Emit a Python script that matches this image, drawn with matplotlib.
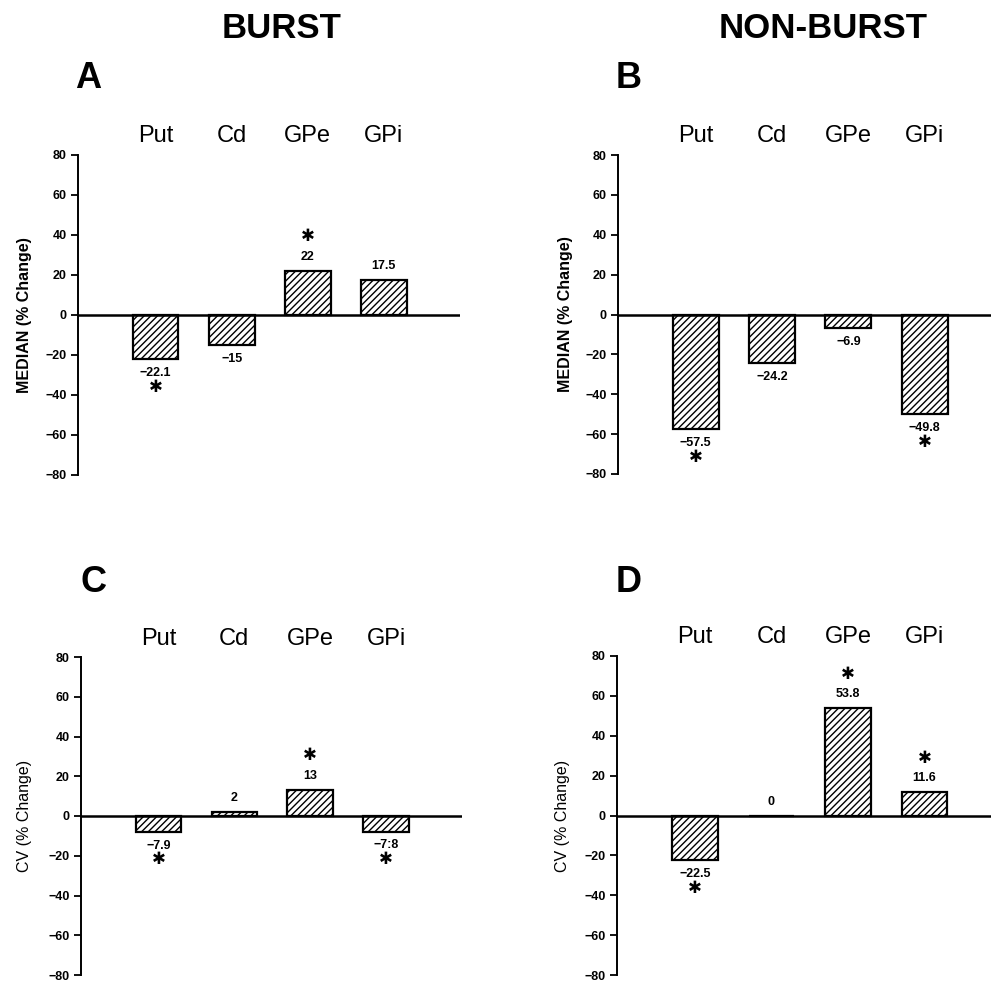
import matplotlib
matplotlib.use('Agg')
import matplotlib.pyplot as plt
import matplotlib.transforms as mtransforms

plt.rcParams['font.family'] = ['Liberation Sans', 'DejaVu Sans']
plt.rcParams['hatch.linewidth'] = 1.0

regions = ['Put', 'Cd', 'GPe', 'GPi']

# % change values
burst_median = [-22.1, -15, 22, 17.5]
nonburst_median = [-57.5, -24.2, -6.9, -49.8]
burst_cv = [-7.9, 2, 13, -7.8]
nonburst_cv = [-22.5, 0, 53.8, 11.6]

# value labels as printed
burst_median_lbl = ['\u221222.1', '\u221215', '22', '17.5']
nonburst_median_lbl = ['\u221257.5', '\u221224.2', '\u22126.9', '\u221249.8']
burst_cv_lbl = ['\u22127.9', '2', '13', '\u22127:8']
nonburst_cv_lbl = ['\u221222.5', '0', '53.8', '11.6']

# significance markers
burst_median_sig = [True, False, True, False]
nonburst_median_sig = [True, False, False, True]
burst_cv_sig = [True, False, True, True]
nonburst_cv_sig = [True, False, True, True]

yticks = [-80, -60, -40, -20, 0, 20, 40, 60, 80]

W, H = 991, 982
fig = plt.figure(figsize=(W / 100, H / 100), dpi=100)


def px_axes(x0, x1, ytop, ybot):
    return fig.add_axes([x0 / W, 1 - ybot / H, (x1 - x0) / W, (ybot - ytop) / H])


panels = [
    # (axes px box, xlim, values, labels, sig, ylabel, label weight, label coord)
    ((78, 460, 155, 475), (-1.02, 4.0), burst_median, burst_median_lbl,
     burst_median_sig, 'MEDIAN (% Change)', 'bold', -0.139),
    ((618, 991, 155, 474), (-1.02, 3.87), nonburst_median, nonburst_median_lbl,
     nonburst_median_sig, 'MEDIAN (% Change)', 'bold', -0.142),
    ((81, 462, 657, 975), (-1.02, 4.0), burst_cv, burst_cv_lbl,
     burst_cv_sig, 'CV (% Change)', 'normal', -0.147),
    ((617, 991, 656, 975), (-1.02, 3.87), nonburst_cv, nonburst_cv_lbl,
     nonburst_cv_sig, 'CV (% Change)', 'normal', -0.147),
]

for box, xlim, vals, lbls, sig, ylabel, lw_, lx in panels:
    ax = px_axes(*box)
    x = list(range(len(regions)))
    ax.bar(x, vals, width=0.6, color='white', edgecolor='black',
           linewidth=1.6, hatch='/////', zorder=2)
    ax.axhline(0, color='black', linewidth=1.8, zorder=3)
    ax.set_xlim(*xlim)
    ax.set_ylim(-80, 80)
    ax.set_yticks(yticks)
    ax.set_xticks([])
    for s in ['top', 'right', 'bottom']:
        ax.spines[s].set_visible(False)
    ax.spines['left'].set_linewidth(1.4)
    ax.tick_params(axis='y', direction='out', length=5, width=1.3, pad=3,
                   labelsize=9)
    for t in ax.get_yticklabels():
        t.set_fontweight('bold')
    ax.set_ylabel(ylabel, fontsize=11.5, fontweight=lw_, va='center')
    ax.yaxis.set_label_coords(lx, 0.5)

    trans = mtransforms.blended_transform_factory(ax.transData, ax.transAxes)
    for xi, name in zip(x, regions):
        ax.text(xi, 1.058, name, transform=trans, ha='center', va='center',
                fontsize=17)

    for xi, v, lb, s in zip(x, vals, lbls, sig):
        sgn = 1 if v >= 0 else -1
        ax.annotate(lb, (xi, v), xytext=(0, 10 * sgn), textcoords='offset points',
                    ha='center', va='center', fontsize=9, fontweight='bold')
        if s:
            off = 25 if sgn > 0 else -20
            ax.annotate('\u2731', (xi, v), xytext=(0, off), textcoords='offset points',
                        ha='center', va='center', fontsize=12,
                        family=['DejaVu Sans'])

# column titles
fig.text(282 / W, 1 - 29 / H, 'BURST', ha='center', va='center',
         fontsize=25, fontweight='bold')
fig.text(823 / W, 1 - 29 / H, 'NON-BURST', ha='center', va='center',
         fontsize=25, fontweight='bold')

# panel letters
for lt, px, py in [('A', 88, 79), ('B', 629, 79), ('C', 94, 583), ('D', 629, 583)]:
    fig.text(px / W, 1 - py / H, lt, ha='center', va='center',
             fontsize=26, fontweight='bold')

fig.savefig('out.png', dpi=100)
